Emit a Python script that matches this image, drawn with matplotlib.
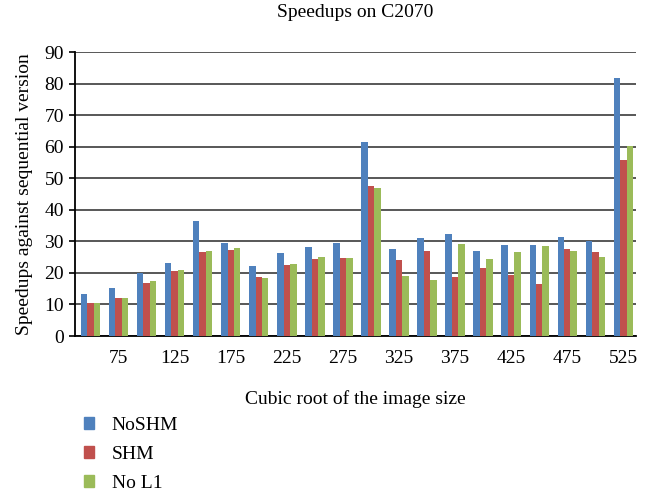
import numpy as np
import matplotlib
matplotlib.use("Agg")
import matplotlib.pyplot as plt
from matplotlib.patches import Patch

plt.rcParams['font.family'] = ['Liberation Serif', 'DejaVu Serif']

# data
sizes = [50, 75, 100, 125, 150, 175, 200, 225, 250, 275,
         300, 325, 350, 375, 400, 425, 450, 475, 500, 525]
noshm = [13.3, 15.2, 20.0, 23.2, 36.5, 29.6, 22.2, 26.3, 28.2, 29.5,
         61.5, 27.6, 31.1, 32.4, 27.0, 28.9, 28.9, 31.4, 30.1, 81.9]
shm = [10.6, 12.2, 16.8, 20.7, 26.8, 27.3, 18.7, 22.5, 24.4, 24.7,
       47.6, 24.1, 27.0, 18.7, 21.6, 19.4, 16.5, 27.6, 26.6, 55.8]
nol1 = [10.4, 12.2, 17.6, 21.0, 27.1, 27.9, 18.4, 22.8, 25.1, 24.7,
        47.0, 19.0, 17.8, 29.2, 24.4, 26.6, 28.6, 27.0, 25.1, 60.3]
series = ["NoSHM", "SHM", "No L1"]
colors = ["#4F81BD", "#C0504D", "#9BBB59"]

fig = plt.figure(figsize=(6.59, 4.92), dpi=100)
ax = fig.add_axes([0.114, 0.317, 0.851, 0.577])

x = np.arange(len(sizes))
w = 0.23
for i, (vals, c) in enumerate(zip([noshm, shm, nol1], colors)):
    ax.bar(x + (i - 1) * w, vals, w, color=c, zorder=3)

ax.set_ylim(0, 90)
ax.set_yticks(range(0, 91, 10))
ax.set_xlim(-0.55, 19.45)
ax.set_xticks(x[1::2])
ax.set_xticklabels([str(s) for s in sizes[1::2]])
ax.tick_params(axis='x', length=0, pad=10, labelsize=14)
ax.tick_params(axis='y', length=4, width=1.2, labelsize=14, pad=4)
ax.yaxis.grid(True, color='#4a4a4a', lw=1.3, zorder=0)

for s in ['top', 'right']:
    ax.spines[s].set_visible(False)
ax.spines['left'].set_linewidth(1.3)
ax.spines['bottom'].set_linewidth(1.3)

ax.set_title("Speedups on C2070", fontsize=14, pad=25)
ax.set_xlabel("Cubic root of the image size", fontsize=14, labelpad=17)
ax.set_ylabel("Speedups against sequential version", fontsize=14, labelpad=8)

handles = [Patch(color=c) for c in colors]
fig.legend(handles, series, loc='upper left', bbox_to_anchor=(0.115, 0.168),
           frameon=False, fontsize=14, handlelength=0.55, handleheight=0.55,
           handletextpad=0.9, labelspacing=0.62, borderaxespad=0)

fig.savefig("out.png", dpi=100)
